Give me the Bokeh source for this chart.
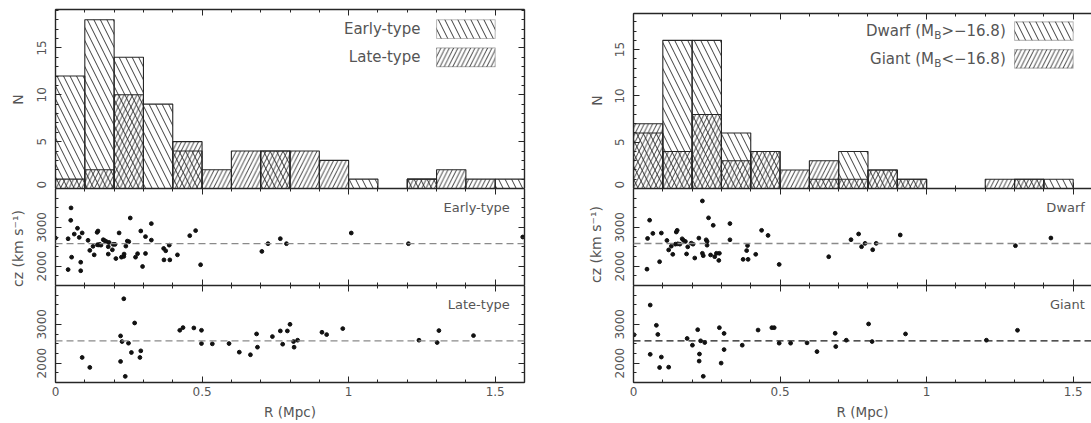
import math
from bokeh.plotting import figure
from bokeh.layouts import row, column
from bokeh.models import (Range1d, LinearAxis, FixedTicker, Span, Label,
                          BoxAnnotation, CustomJSTickFormatter, ColumnDataSource)
from bokeh.embed import file_html
from bokeh.resources import INLINE

# ---------------- data ----------------
BIN_LEFT = [0.0, 0.1, 0.2, 0.3, 0.4, 0.5, 0.6, 0.7, 0.8, 0.9, 1.0, 1.1, 1.2, 1.3, 1.4, 1.5]
BIN_RIGHT = [0.1, 0.2, 0.3, 0.4, 0.5, 0.6, 0.7, 0.8, 0.9, 1.0, 1.1, 1.2, 1.3, 1.4, 1.5, 1.6]
EARLY_N = [12, 18, 14, 9, 4, 0, 0, 4, 0, 0, 1, 0, 1, 0, 0, 1]
LATE_N = [1, 2, 10, 0, 5, 2, 4, 4, 4, 3, 0, 0, 1, 2, 1, 0]
DWARF_N = [6, 16, 16, 6, 4, 0, 1, 4, 2, 1, 0, 0, 0, 1, 1, 0]
GIANT_N = [7, 4, 8, 3, 4, 2, 3, 1, 2, 1, 0, 0, 1, 1, 0, 0]

EARLY_R = [0.000, 0.043, 0.053, 0.052, 0.055, 0.043, 0.064, 0.075, 0.081, 0.091, 0.086, 0.086,
           0.111, 0.117, 0.128, 0.132, 0.142, 0.145, 0.143, 0.148, 0.151, 0.155, 0.163, 0.168,
           0.174, 0.180, 0.180, 0.183, 0.194, 0.197, 0.203, 0.206, 0.217, 0.225, 0.233, 0.234,
           0.240, 0.245, 0.250, 0.255, 0.273, 0.280, 0.291, 0.297, 0.307, 0.307, 0.327, 0.327,
           0.369, 0.370, 0.376, 0.388, 0.390, 0.416, 0.458, 0.478, 0.495, 0.704, 0.725, 0.767,
           0.788, 1.009, 1.204, 1.594]
EARLY_CZ = [2724, 2705, 3500, 3180, 2230, 1910, 2825, 2975, 2740, 2855, 2100, 1880,
            2665, 2405, 2510, 2290, 2870, 2905, 2550, 2545, 2560, 2540, 2680, 2655,
            2630, 2310, 2500, 2610, 2420, 2560, 2560, 2195, 2855, 2230, 2250, 2310,
            2515, 2645, 2630, 3240, 2230, 2320, 2905, 1990, 2760, 2325, 3095, 2670,
            2455, 2160, 2395, 2540, 2160, 2290, 2785, 2915, 2035, 2379, 2578, 2707,
            2578, 2853, 2578, 2750]

LATE_R = [0.091, 0.117, 0.233, 0.222, 0.227, 0.222, 0.238, 0.249, 0.259, 0.270, 0.288, 0.291,
          0.424, 0.435, 0.472, 0.498, 0.498, 0.535, 0.592, 0.627, 0.665, 0.686, 0.689, 0.740,
          0.767, 0.775, 0.791, 0.800, 0.812, 0.814, 0.826, 0.909, 0.925, 0.980, 1.240, 1.302,
          1.308, 1.426]
LATE_CZ = [2145, 1889, 3658, 2701, 2555, 2042, 1658, 2513, 2273, 3034, 2145, 2316,
           2846, 2915, 2906, 2846, 2504, 2496, 2504, 2282, 2215, 2752, 2410, 2684,
           2829, 2487, 2829, 3000, 2556, 2410, 2590, 2795, 2735, 2889, 2590, 2530,
           2838, 2709]

DWARF_R = [0.048, 0.055, 0.046, 0.066, 0.089, 0.095, 0.114, 0.120, 0.134, 0.129, 0.146, 0.149,
           0.143, 0.151, 0.158, 0.166, 0.171, 0.177, 0.181, 0.185, 0.197, 0.203, 0.209, 0.223,
           0.235, 0.235, 0.238, 0.248, 0.251, 0.251, 0.256, 0.263, 0.272, 0.277, 0.283, 0.291,
           0.293, 0.329, 0.329, 0.374, 0.386, 0.391, 0.389, 0.417, 0.437, 0.459, 0.497, 0.666,
           0.742, 0.768, 0.778, 0.790, 0.816, 0.828, 0.910, 1.303, 1.424]
DWARF_CZ = [2713, 3183, 1921, 2843, 2113, 2852, 2661, 2417, 2304, 2513, 2878, 2922,
            2565, 2574, 2565, 2704, 2661, 2635, 2313, 2496, 2591, 2565, 2208, 2722,
            3679, 2330, 2269, 2678, 2635, 2539, 3244, 2287, 3052, 2243, 2330, 2147,
            2330, 3096, 2678, 2174, 2400, 2174, 2530, 2304, 2922, 2791, 2043, 2241,
            2681, 2828, 2500, 2586, 2422, 2586, 2802, 2526, 2724]

GIANT_R = [0.002, 0.057, 0.078, 0.083, 0.057, 0.095, 0.089, 0.120, 0.183, 0.201, 0.219, 0.229,
           0.225, 0.224, 0.238, 0.243, 0.293, 0.309, 0.309, 0.299, 0.371, 0.425, 0.472, 0.480,
           0.497, 0.536, 0.592, 0.626, 0.688, 0.690, 0.726, 0.802, 0.814, 0.928, 1.204, 1.310]
GIANT_CZ = [2730, 3496, 2974, 2739, 2226, 2156, 1886, 1895, 2635, 2461, 2861, 2574,
            2234, 2052, 1660, 2530, 2913, 2765, 2348, 2000, 2461, 2852, 2913, 2913,
            2513, 2513, 2522, 2296, 2769, 2427, 2590, 3009, 2556, 2752, 2590, 2846]

MEAN_EARLY = 2578
MEAN_LATE = 2572
MEAN_DWARF = 2582
MEAN_GIANT = 2574

X_MAJOR = [0, 0.5, 1.0, 1.5]
X_MINOR = [i / 10 for i in range(17)]
N_MAJOR = [0, 5, 10, 15]
N_MINOR = list(range(20))
CZ_MAJOR = [2000, 3000]
CZ_MINOR = list(range(1500, 4001, 250))

# ---------------- style ----------------
FONT = "DejaVu Sans"
TXT = "#555555"
LINE = "#262626"
H = 423
SC_A = 13   # hatch scale, "\" series
SC_B = 8.5  # hatch scale, "/" series

LABEL_FMT = CustomJSTickFormatter(code="return String(tick)")


def add_axis(p, loc, ticker, labels=False, orient=None, standoff=4, axis_label=None):
    ax = LinearAxis(ticker=ticker)
    ax.axis_line_color = LINE
    ax.axis_line_width = 1.4
    ax.major_tick_line_color = LINE
    ax.minor_tick_line_color = LINE
    ax.major_tick_in = 6
    ax.major_tick_out = 0
    ax.minor_tick_in = 3
    ax.minor_tick_out = 0
    if labels:
        ax.formatter = LABEL_FMT
        ax.major_label_text_font = FONT
        ax.major_label_text_font_size = "12px"
        ax.major_label_text_color = TXT
        ax.major_label_standoff = standoff
        if orient is not None:
            ax.major_label_orientation = orient
        if axis_label:
            ax.axis_label = axis_label
            ax.axis_label_text_font = FONT
            ax.axis_label_text_font_size = "13.5px"
            ax.axis_label_text_font_style = "normal"
            ax.axis_label_text_color = TXT
            ax.axis_label_standoff = 5
    else:
        ax.formatter = CustomJSTickFormatter(code="return ''")
        ax.major_label_text_font_size = "0px"
        ax.major_label_standoff = 0
    p.add_layout(ax, loc)
    return ax


def base(fw, fh, xend, yr, bl, br, bt, bb):
    p = figure(frame_width=fw, frame_height=fh, x_range=Range1d(0, xend), y_range=Range1d(*yr),
               min_border_left=bl, min_border_right=br, min_border_top=bt, min_border_bottom=bb,
               output_backend="svg", toolbar_location=None,
               x_axis_location=None, y_axis_location=None)
    p.outline_line_color = None
    p.grid.visible = False
    p.background_fill_color = "white"
    p.border_fill_color = "white"
    return p


def hist_fig(fw, fh, xend, ymax, bl, br, bt, n_a, n_b, pat_a, pat_b, right_axis):
    p = base(fw, fh, xend, (0, ymax), bl, br, bt, 0)
    xt = FixedTicker(ticks=X_MAJOR, minor_ticks=X_MINOR)
    yt = FixedTicker(ticks=N_MAJOR, minor_ticks=N_MINOR)
    add_axis(p, "left", yt, labels=True, orient="vertical", standoff=9)
    if right_axis:
        add_axis(p, "right", FixedTicker(ticks=N_MAJOR, minor_ticks=N_MINOR))
    add_axis(p, "above", FixedTicker(ticks=X_MAJOR, minor_ticks=X_MINOR))
    add_axis(p, "below", xt)
    for counts, pat, sc in ((n_b, pat_b, SC_B), (n_a, pat_a, SC_A)):
        src = ColumnDataSource(dict(
            l=[a for a, c in zip(BIN_LEFT, counts) if c > 0],
            r=[b for b, c in zip(BIN_RIGHT, counts) if c > 0],
            t=[c for c in counts if c > 0]))
        p.quad(left="l", right="r", top="t", bottom=0, source=src,
               fill_color=None, line_color=LINE, line_width=1.1,
               hatch_pattern=pat, hatch_scale=sc, hatch_color=LINE, hatch_weight=0.9)
    return p


def scatter_fig(fw, fh, xend, bl, br, bb, xs, ys, mean, mean_color, name, name_x, right_axis, bottom_labels):
    p = base(fw, fh, xend, (1500, 4000), bl, br, 0, bb)
    add_axis(p, "left", FixedTicker(ticks=CZ_MAJOR, minor_ticks=CZ_MINOR),
             labels=True, orient="vertical", standoff=9)
    if right_axis:
        add_axis(p, "right", FixedTicker(ticks=CZ_MAJOR, minor_ticks=CZ_MINOR))
    add_axis(p, "above", FixedTicker(ticks=X_MAJOR, minor_ticks=X_MINOR))
    if bottom_labels:
        add_axis(p, "below", FixedTicker(ticks=X_MAJOR, minor_ticks=X_MINOR), labels=True,
                 standoff=4, axis_label="R (Mpc)")
    else:
        add_axis(p, "below", FixedTicker(ticks=X_MAJOR, minor_ticks=X_MINOR))
    p.add_layout(Span(location=mean, dimension="width", line_color=mean_color,
                      line_width=1.3, line_dash="7 4"))
    p.scatter(x=xs, y=ys, marker="circle", size=3.8, fill_color="#111111", line_color="#111111")
    p.add_layout(Label(x=name_x, y=3500, text=name, text_align="right", text_baseline="middle",
                       text_font=FONT, text_font_size="13px", text_color=TXT))
    return p


def label_fig(w, items):
    p = figure(width=w, height=H, x_range=Range1d(0, 1), y_range=Range1d(0, 1),
               min_border=0, output_backend="svg", toolbar_location=None,
               x_axis_location=None, y_axis_location=None)
    p.outline_line_color = None
    p.grid.visible = False
    for x, y, t in items:
        p.add_layout(Label(x=x, y=y, x_units="screen", y_units="screen", text=t,
                           angle=math.pi / 2, text_align="center", text_baseline="middle",
                           text_font=FONT, text_font_size="14px", text_color=TXT))
    return p


def legend_box(p, bottom, top, pat, sc):
    p.add_layout(BoxAnnotation(left=1.3, right=1.5, bottom=bottom, top=top,
                               fill_color=None, fill_alpha=0, line_color=LINE, line_width=1.1,
                               hatch_pattern=pat, hatch_scale=sc, hatch_color=LINE,
                               hatch_weight=0.9))


def legend_text(p, x, y, text, size="15px", xoff=0, yoff=0):
    p.add_layout(Label(x=x, y=y, text=text, text_align="right", text_baseline="middle",
                       x_offset=xoff, y_offset=yoff,
                       text_font=FONT, text_font_size=size, text_color=TXT))


# ---------------- left column ----------------
LAB_W = 28
LFW, LBL, LBR = 469, 55 - LAB_W, 36
hL = hist_fig(LFW, 179, 1.6, 19.1, LBL, LBR, 9, EARLY_N, LATE_N, "\\", "/", True)
legend_box(hL, 16, 18, "\\", SC_A)
legend_box(hL, 13, 15, "/", SC_B)
legend_text(hL, 1.245, 17, "Early-type")
legend_text(hL, 1.245, 14, "Late-type")
s1L = scatter_fig(LFW, 97, 1.6, LBL, LBR, 0, EARLY_R, EARLY_CZ, MEAN_EARLY, "#8a8a8a",
                  "Early-type", 1.55, True, False)
s2L = scatter_fig(LFW, 97, 1.6, LBL, LBR, 41, LATE_R, LATE_CZ, MEAN_LATE, "#8a8a8a",
                  "Late-type", 1.55, True, True)

# ---------------- right column ----------------
RFW, RBL = 458, 28
RX = 1.5625
hR = hist_fig(RFW, 175, RX, 18.9, RBL, 0, 13, DWARF_N, GIANT_N, "\\", "/", False)
legend_box(hR, 16, 18, "\\", SC_A)
legend_box(hR, 13, 15, "/", SC_B)
W3 = 64.4
W2 = 7.4
for yy, name, sign in ((17, "Dwarf (M", ">\u221216.8)"), (14, "Giant (M", "<\u221216.8)")):
    legend_text(hR, 1.27, yy, sign)
    legend_text(hR, 1.27, yy, "B", size="10.5px", xoff=-W3, yoff=-4)
    legend_text(hR, 1.27, yy, name, xoff=-(W3 + W2))
s1R = scatter_fig(RFW, 97, RX, RBL, 0, 0, DWARF_R, DWARF_CZ, MEAN_DWARF, "#8a8a8a",
                  "Dwarf", 1.54, False, False)
s2R = scatter_fig(RFW, 97, RX, RBL, 0, 41, GIANT_R, GIANT_CZ, MEAN_GIANT, "#1a1a1a",
                  "Giant", 1.54, False, True)

MID_W = 605 - (LAB_W + LBL + LFW + LBR)
labL = label_fig(LAB_W, [(17, H - 99, "N"), (17, H - 248, "cz (km s\u207b\u00b9)")])
labM = label_fig(MID_W, [(36, H - 100, "N"), (35, H - 244, "cz (km s\u207b\u00b9)")])

layout = row(labL, column(hL, s1L, s2L, spacing=0), labM, column(hR, s1R, s2R, spacing=0),
             spacing=0)

open("out.html", "w").write(file_html(layout, INLINE))
